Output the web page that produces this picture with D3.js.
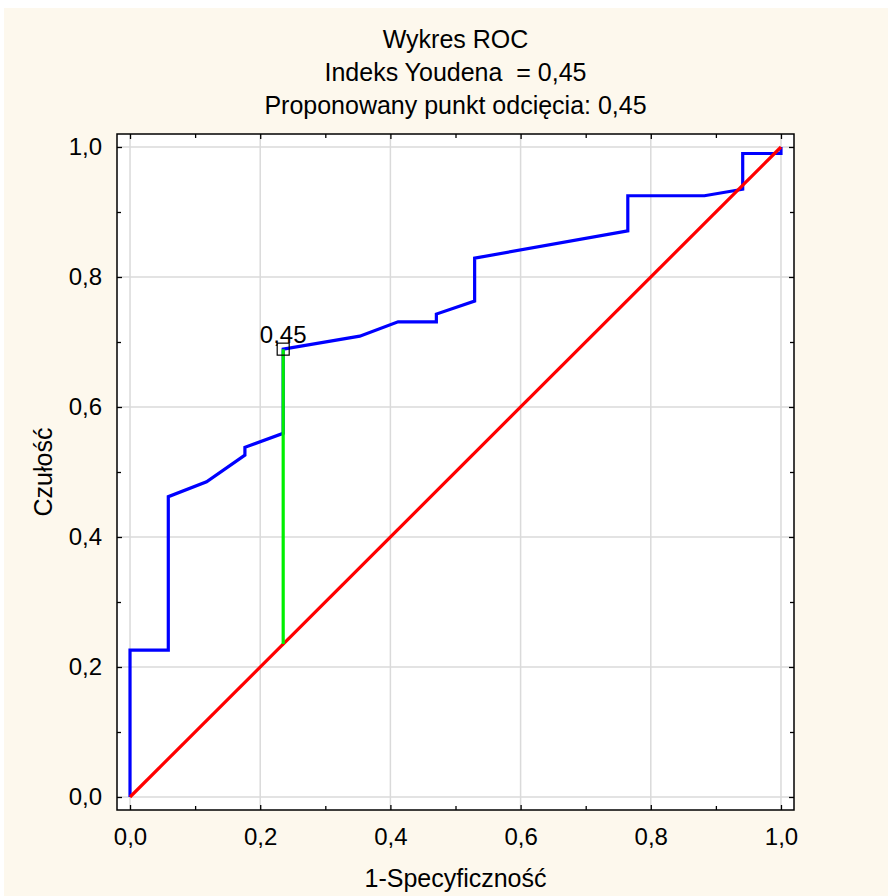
<!DOCTYPE html>
<html>
<head>
<meta charset="utf-8">
<script src="https://cdnjs.cloudflare.com/ajax/libs/d3/7.8.5/d3.min.js"></script>
<style>
  body { margin: 0; background: #fff; }
  svg text { font-family: Arial, "Liberation Sans", sans-serif; fill: #000; }
</style>
</head>
<body>
<div id="chart"></div>
<script>
(function () {

// ROC curve points (1-specificity, sensitivity)
const rocX = [0, 0, 0.0588, 0.0588, 0.1176, 0.1765, 0.1765, 0.2353, 0.2353, 0.3529, 0.4118, 0.4706, 0.4706, 0.5294, 0.5294, 0.7647, 0.7647, 0.8824, 0.9412, 0.9412, 1.0, 1.0];
const rocY = [0, 0.226, 0.226, 0.462, 0.485, 0.526, 0.538, 0.5595, 0.689, 0.709, 0.731, 0.731, 0.743, 0.763, 0.829, 0.871, 0.925, 0.925, 0.935, 0.990, 0.990, 1.0];

// Youden cut-off point
const cutX = 0.2353;
const cutY = 0.689;
const cutLabel = "0,45";

const majorTicks = [0, 0.2, 0.4, 0.6, 0.8, 1.0];
const minorTicks = [0.1, 0.3, 0.5, 0.7, 0.9];

const titles = ["Wykres ROC", "Indeks Youdena  = 0,45", "Proponowany punkt odcięcia: 0,45"];
const xTitle = "1-Specyficzność";
const yTitle = "Czułość";

const W = 888, H = 896;
const frame = {left: 117, right: 794, top: 134, bottom: 810};

const svg = d3.select("#chart").append("svg")
    .attr("width", W)
    .attr("height", H);

// cream page background
svg.append("rect").attr("x", 4).attr("y", 8).attr("width", W - 4).attr("height", H - 8).attr("fill", "#fdf8ed");
svg.append("rect")
    .attr("x", frame.left).attr("y", frame.top)
    .attr("width", frame.right - frame.left).attr("height", frame.bottom - frame.top)
    .attr("fill", "#fff");

const x = d3.scaleLinear([-0.02, 1.02], [frame.left, frame.right]);
const y = d3.scaleLinear([-0.02, 1.02], [frame.bottom, frame.top]);

const fmt = d => d3.format(".1f")(d).replace(".", ",");

// grid
svg.append("g").selectAll("line.gx").data(majorTicks).join("line")
    .attr("x1", d => x(d)).attr("x2", d => x(d))
    .attr("y1", frame.top).attr("y2", frame.bottom)
    .attr("stroke", "#dadada").attr("stroke-width", 1.5);
svg.append("g").selectAll("line.gy").data(majorTicks).join("line")
    .attr("y1", d => y(d)).attr("y2", d => y(d))
    .attr("x1", frame.left).attr("x2", frame.right)
    .attr("stroke", "#dadada").attr("stroke-width", 1.5);

// axes, ticks pointing inward
function addAxis(axis, tx, ty, values, size, labels) {
  const g = svg.append("g")
      .attr("transform", "translate(" + tx + "," + ty + ")")
      .call(axis.tickValues(values).tickSizeInner(-size).tickSizeOuter(0)
                .tickFormat(labels ? fmt : () => ""));
  g.select(".domain").remove();
  g.selectAll(".tick line").attr("stroke", "#000").attr("stroke-width", 1.3);
  g.selectAll(".tick text").style("font-size", "24px").attr("fill", "#000");
  return g;
}
addAxis(d3.axisBottom(x).tickPadding(18), 0, frame.bottom, majorTicks, 5, true);
addAxis(d3.axisBottom(x), 0, frame.bottom, minorTicks, 4, false);
addAxis(d3.axisTop(x), 0, frame.top, majorTicks, 5, false);
addAxis(d3.axisTop(x), 0, frame.top, minorTicks, 4, false);
addAxis(d3.axisLeft(y).tickPadding(15), frame.left, 0, majorTicks, 5, true);
addAxis(d3.axisLeft(y), frame.left, 0, minorTicks, 4, false);
addAxis(d3.axisRight(y), frame.right, 0, majorTicks, 5, false);
addAxis(d3.axisRight(y), frame.right, 0, minorTicks, 4, false);

// ROC curve
const line = d3.line().x(d => x(d[0])).y(d => y(d[1]));
svg.append("path")
    .datum(d3.zip(rocX, rocY))
    .attr("d", line)
    .attr("fill", "none")
    .attr("stroke", "#0000ff")
    .attr("stroke-width", 3.2);

// reference diagonal
svg.append("path")
    .datum([[0, 0], [1, 1]])
    .attr("d", line)
    .attr("fill", "none")
    .attr("stroke", "#ff0000")
    .attr("stroke-width", 3.2);

// Youden line
svg.append("path")
    .datum([[cutX, cutX], [cutX, cutY]])
    .attr("d", line)
    .attr("fill", "none")
    .attr("stroke", "#00f000")
    .attr("stroke-width", 3.2);

// cut-off marker + label
svg.append("rect")
    .attr("x", x(cutX) - 6).attr("y", y(cutY) - 6)
    .attr("width", 12).attr("height", 12)
    .attr("fill", "none").attr("stroke", "#000").attr("stroke-width", 1.2);
svg.append("text")
    .attr("x", x(cutX)).attr("y", y(cutY) - 6)
    .attr("text-anchor", "middle")
    .style("font-size", "24px")
    .text(cutLabel);

// frame
svg.append("rect")
    .attr("x", frame.left).attr("y", frame.top)
    .attr("width", frame.right - frame.left).attr("height", frame.bottom - frame.top)
    .attr("fill", "none").attr("stroke", "#000").attr("stroke-width", 1.5);

// titles
const cx = (frame.left + frame.right) / 2;
svg.selectAll("text.title").data(titles).join("text")
    .attr("class", "title")
    .attr("x", cx)
    .attr("y", (d, i) => 48 + i * 33)
    .attr("text-anchor", "middle")
    .style("font-size", "25px")
    .style("white-space", "pre")
    .text(d => d);

svg.append("text")
    .attr("x", cx).attr("y", 887)
    .attr("text-anchor", "middle")
    .style("font-size", "25px")
    .text(xTitle);

svg.append("text")
    .attr("transform", "translate(52," + (frame.top + frame.bottom) / 2 + ") rotate(-90)")
    .attr("text-anchor", "middle")
    .style("font-size", "25px")
    .text(yTitle);

})()
</script>
</body>
</html>
